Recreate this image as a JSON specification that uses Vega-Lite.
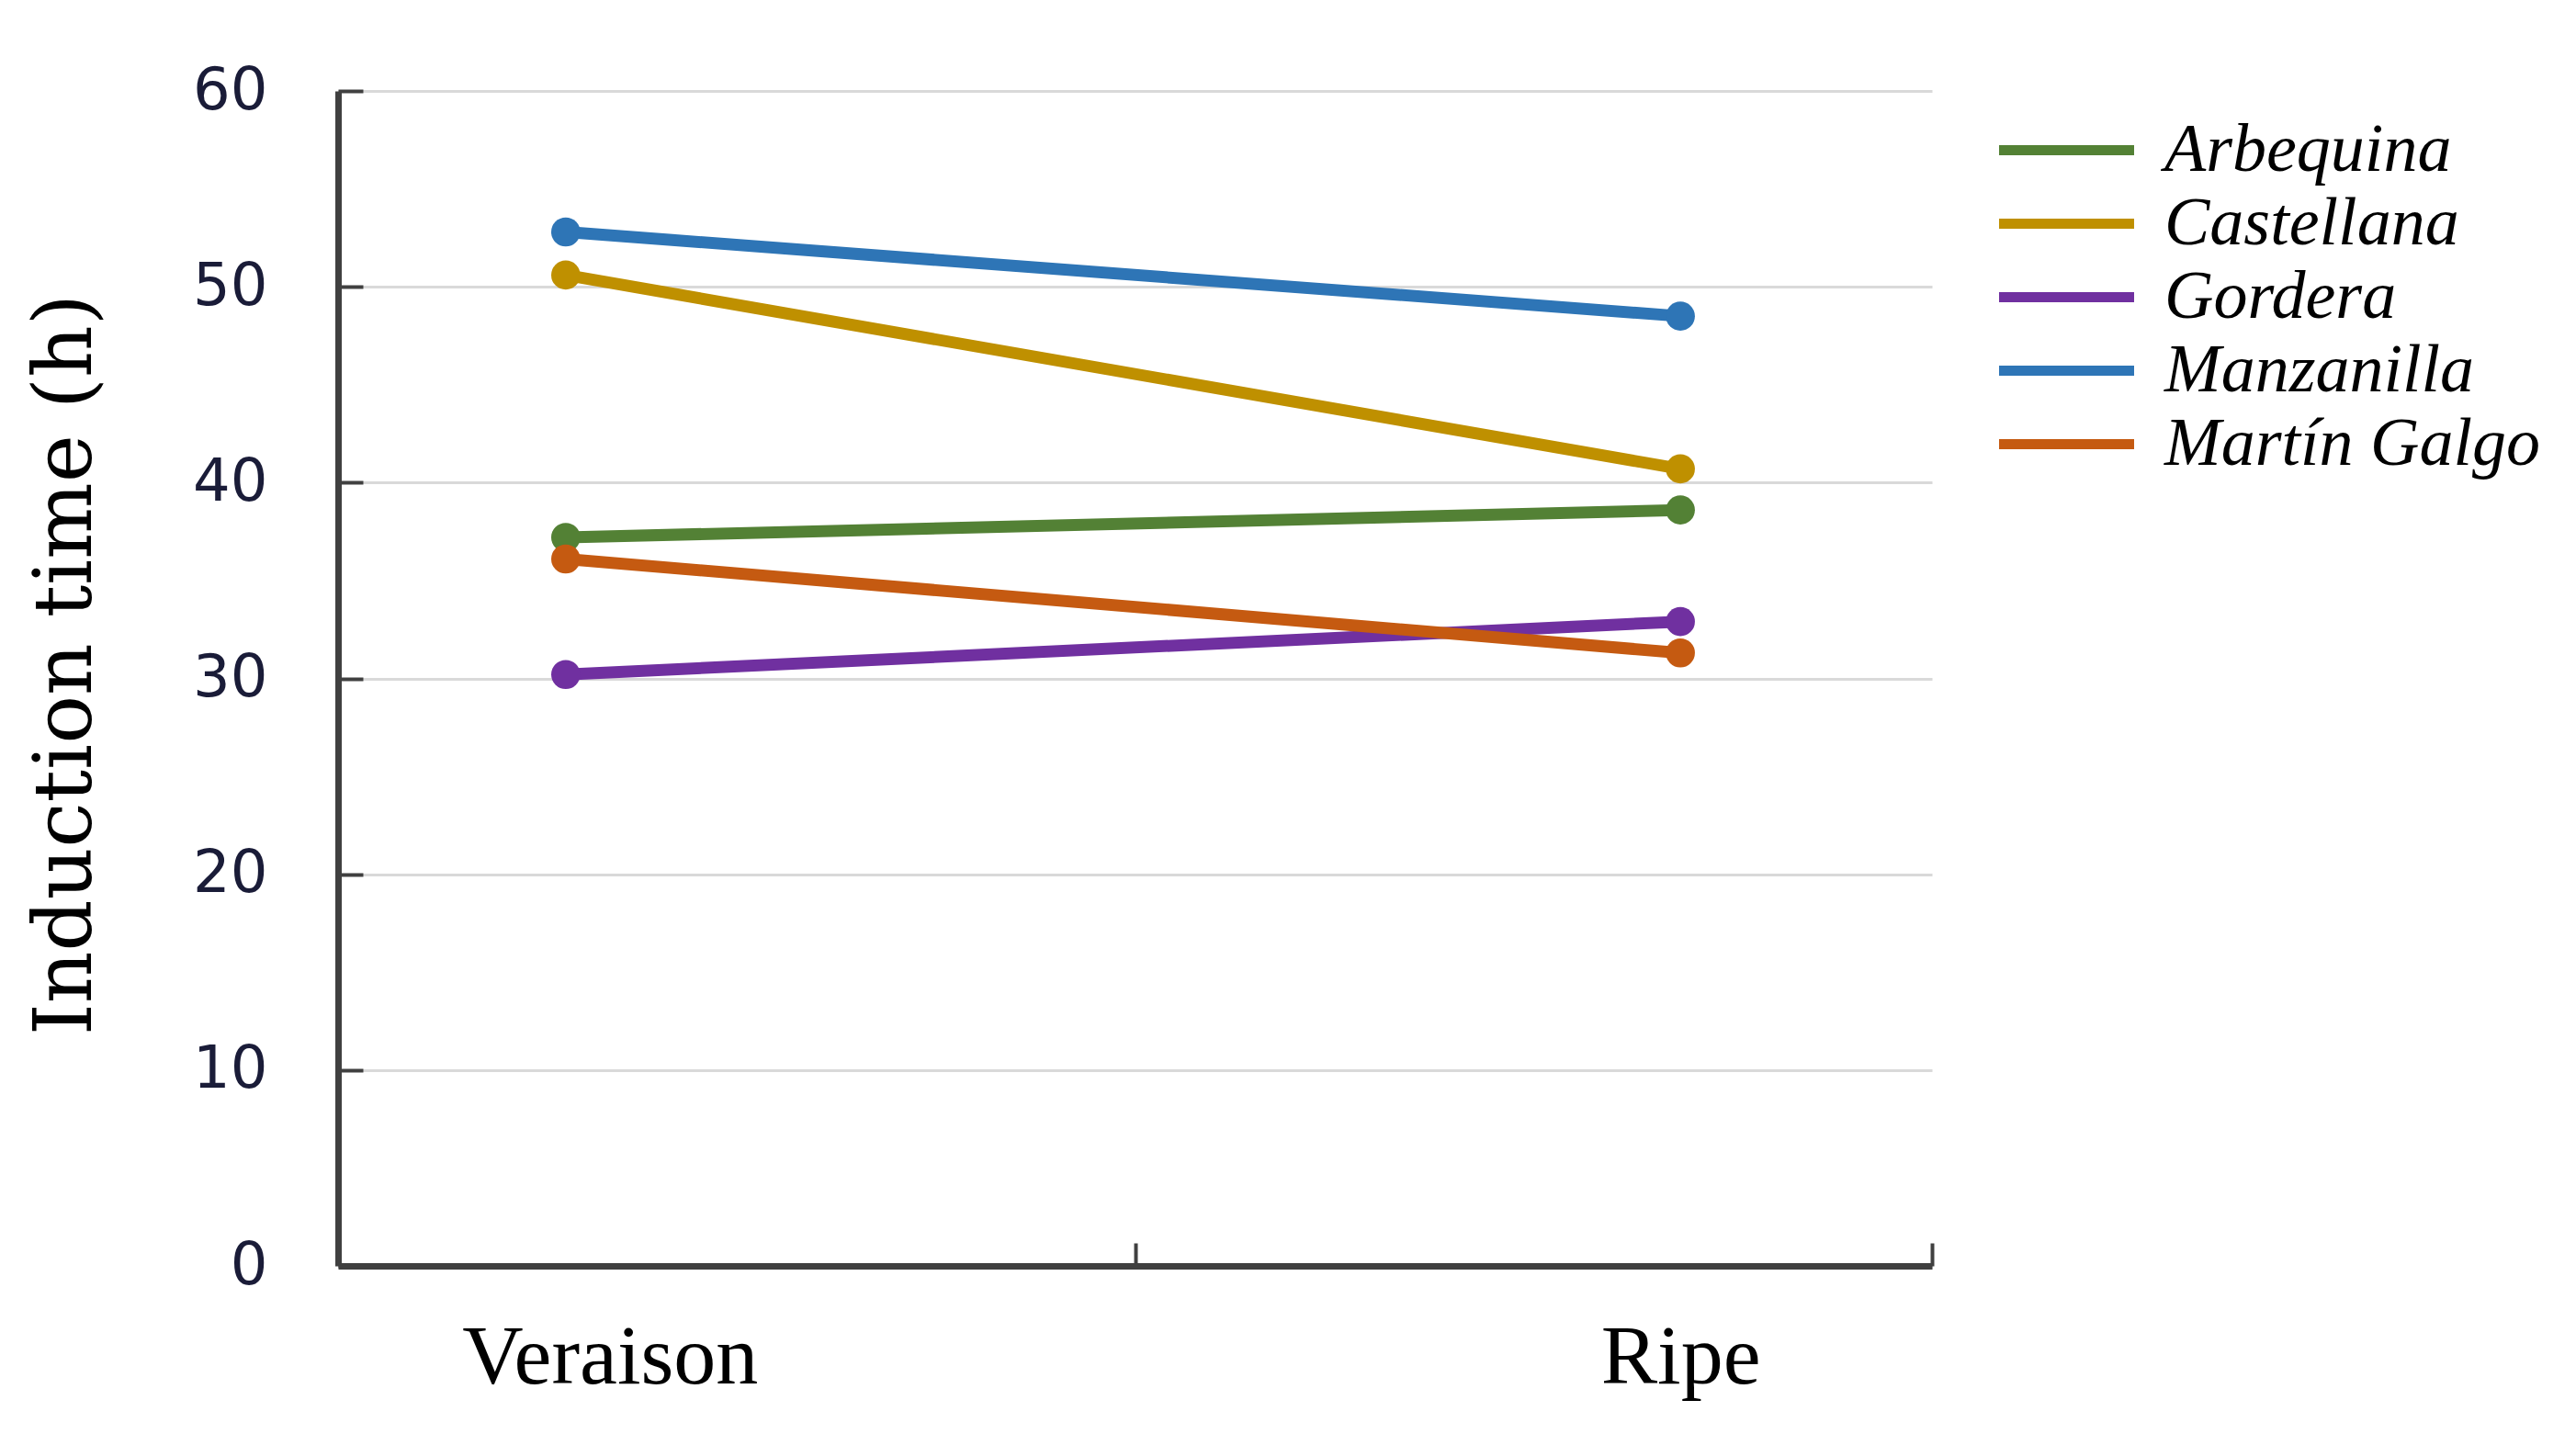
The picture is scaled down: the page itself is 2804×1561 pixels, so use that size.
{
  "$schema": "https://vega.github.io/schema/vega-lite/v6.json",
  "width": 1735,
  "height": 1279,
  "autosize": {"type": "none"},
  "padding": {"left": 368, "top": 99, "right": 701, "bottom": 183},
  "background": "white",
  "data": {
    "values": [
      {"cultivar": "Arbequina", "stage": "Veraison", "time": 37.2},
      {"cultivar": "Arbequina", "stage": "Ripe", "time": 38.6},
      {"cultivar": "Castellana", "stage": "Veraison", "time": 50.6},
      {"cultivar": "Castellana", "stage": "Ripe", "time": 40.7},
      {"cultivar": "Gordera", "stage": "Veraison", "time": 30.2},
      {"cultivar": "Gordera", "stage": "Ripe", "time": 32.9},
      {"cultivar": "Manzanilla", "stage": "Veraison", "time": 52.8},
      {"cultivar": "Manzanilla", "stage": "Ripe", "time": 48.5},
      {"cultivar": "Martín Galgo", "stage": "Veraison", "time": 36.1},
      {"cultivar": "Martín Galgo", "stage": "Ripe", "time": 31.3}
    ]
  },
  "layer": [
    {
      "layer": [
        {"mark": {"type": "line", "strokeWidth": 13}},
        {"mark": {"type": "circle", "size": 1000, "opacity": 1}}
      ],
      "encoding": {
        "x": {
          "field": "stage",
          "type": "ordinal",
          "sort": ["Veraison", "Ripe"],
          "scale": {"type": "point", "padding": 0.215, "align": 0.475},
          "axis": {
            "orient": "bottom",
            "title": null,
            "labelAngle": 0,
            "labelFont": "Liberation Serif",
            "labelFontSize": 92,
            "labelColor": "#000000",
            "labelPadding": 54,
            "labelLimit": 1000,
            "labelOffset": {"condition": {"test": "datum.value == 'Veraison'", "value": 48}, "value": 0},
            "ticks": false,
            "domainColor": "#404040",
            "domainWidth": 7,
            "grid": false
          }
        },
        "y": {
          "field": "time",
          "type": "quantitative",
          "scale": {"domain": [0, 60], "nice": false, "zero": true},
          "axis": {
            "values": [0, 10, 20, 30, 40, 50, 60],
            "title": "Induction time (h)",
            "titleFont": "DejaVu Serif",
            "titleFontSize": 88,
            "titleFontWeight": "normal",
            "titleColor": "#000000",
            "titleAngle": -90,
            "titleX": -296,
            "titleY": 624,
            "titleAlign": "center",
            "titleBaseline": "middle",
            "labelFont": "DejaVu Sans",
            "labelFontSize": 64,
            "labelColor": "#1a1c38",
            "labelPadding": 104,
            "ticks": true,
            "tickSize": -27,
            "tickWidth": 4,
            "tickColor": "#404040",
            "domainColor": "#404040",
            "domainWidth": 7,
            "grid": true,
            "gridColor": "#d9d9d9",
            "gridWidth": 3
          }
        },
        "color": {
          "field": "cultivar",
          "type": "nominal",
          "scale": {
            "domain": ["Arbequina", "Castellana", "Gordera", "Manzanilla", "Martín Galgo"],
            "range": ["#538135", "#BF9000", "#7030A0", "#2E75B6", "#C55A11"]
          },
          "legend": {
            "title": null,
            "orient": "none",
            "legendX": 1839,
            "legendY": 22,
            "symbolType": "M-2,0H2",
            "symbolSize": 5402,
            "symbolStrokeWidth": 11,
            "labelFont": "Liberation Serif",
            "labelFontStyle": "italic",
            "labelFontSize": 74,
            "labelColor": "#000000",
            "labelOffset": 64,
            "rowPadding": 0,
            "labelLimit": 1000
          }
        }
      }
    },
    {
      "data": {"values": [{"edge": 0}, {"edge": 1}]},
      "mark": {"type": "point", "opacity": 0},
      "encoding": {
        "x": {
          "field": "edge",
          "type": "quantitative",
          "scale": {"domain": [0, 1], "nice": false},
          "axis": {
            "orient": "bottom",
            "values": [0.5, 1],
            "title": null,
            "labels": false,
            "domain": false,
            "grid": false,
            "ticks": true,
            "tickSize": -25,
            "tickWidth": 4,
            "tickColor": "#404040"
          }
        }
      }
    }
  ],
  "resolve": {"scale": {"x": "independent"}, "axis": {"x": "independent"}},
  "config": {"view": {"stroke": null}}
}
